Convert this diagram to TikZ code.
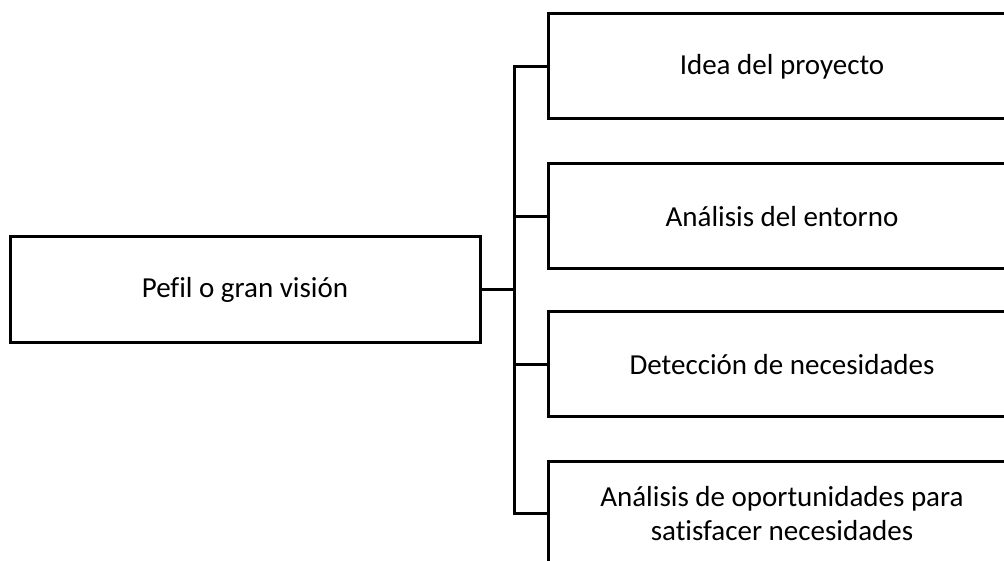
\documentclass[tikz,border=0pt]{standalone}
\usepackage{fontspec}
\setmainfont[Ligatures=NoCommon]{Carlito}
\begin{document}
\begin{tikzpicture}[x=1pt,y=1pt,
  box/.style={draw=black, line width=3pt, fill=white, align=center,
    font=\fontsize{29}{34}\selectfont, inner sep=0pt},
  mainbox/.style={box, minimum width=470pt, minimum height=106pt},
  itembox/.style={box, minimum width=468pt, minimum height=105pt},
  link/.style={draw=black, line width=3pt}]
  \clip (0,0) rectangle (1004,560);
  \fill[white] (0,0) rectangle (1004,560);

  % root on the left
  \node[mainbox] (root) at (245,270) {Pefil o gran visión};

  % items on the right
  \node[itembox] (b1) at (782,493.5) {Idea del proyecto};
  \node[itembox] (b2) at (782,343.5) {Análisis del entorno};
  \node[itembox] (b3) at (782,195.5) {Detección de necesidades};
  \node[itembox] (b4) at (782,46.5) {Análisis de oportunidades para\\satisfacer necesidades};

  % vertical trunk position
  \coordinate (tr) at (514,0);

  \draw[link] (root.east) -- (root.east -| tr);
  \draw[link] (b1.west) -- (b1.west -| tr) -- (b4.west -| tr) -- (b4.west);
  \draw[link] (b2.west) -- (b2.west -| tr);
  \draw[link] (b3.west) -- (b3.west -| tr);
\end{tikzpicture}
\end{document}
